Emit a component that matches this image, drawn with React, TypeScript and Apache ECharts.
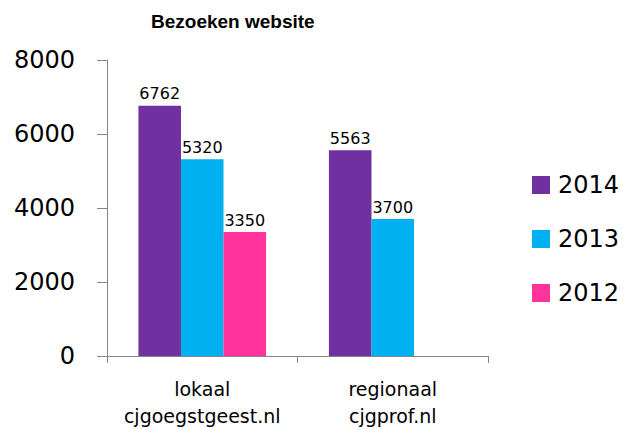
import React, { useEffect, useRef } from "react";
import * as echarts from "echarts";

const categories = ["lokaal\ncjgoegstgeest.nl", "regionaal\ncjgprof.nl"];
const seriesNames = ["2014", "2013", "2012"];
const values2014 = [6762, 5563];
const values2013 = [5320, 3700];
const values2012: (number | null)[] = [3350, null];
const colors = ["#7030A0", "#00B0F0", "#FF3399"];
const yTicks = { min: 0, max: 8000, interval: 2000 };

const FONT = "DejaVu Sans";

export default function App() {
  const ref = useRef<HTMLDivElement>(null);
  useEffect(() => {
    if (!ref.current) return;
    const chart = echarts.init(ref.current, undefined, { renderer: "svg" });
    const data = [values2014, values2013, values2012];
    chart.setOption({
      animation: false,
      backgroundColor: "#ffffff",
      title: {
        text: "Bezoeken website",
        left: 151,
        top: 12,
        padding: 0,
        textStyle: { fontFamily: "Liberation Sans", fontSize: 19, fontWeight: "bold", color: "#000" },
      },
      legend: {
        orient: "vertical",
        left: 532,
        top: 173,
        padding: 0,
        itemWidth: 18,
        itemHeight: 18,
        itemGap: 30,
        icon: "rect",
        textStyle: { fontFamily: FONT, fontSize: 24, color: "#000", padding: [0, 0, 0, 3] },
        data: seriesNames,
      },
      grid: { left: 107, right: 137, top: 60, bottom: 73, containLabel: false },
      xAxis: {
        type: "category",
        data: categories,
        axisLine: { show: true, lineStyle: { color: "#868686", width: 1 } },
        axisTick: { show: true, length: 7, lineStyle: { color: "#868686" } },
        axisLabel: {
          fontFamily: FONT,
          fontSize: 19,
          color: "#000",
          lineHeight: 27,
          margin: 19,
          interval: 0,
        },
      },
      yAxis: {
        type: "value",
        min: yTicks.min,
        max: yTicks.max,
        interval: yTicks.interval,
        splitLine: { show: false },
        axisLine: { show: true, lineStyle: { color: "#868686", width: 1 } },
        axisTick: { show: true, length: 10, lineStyle: { color: "#868686" } },
        axisLabel: {
          fontFamily: FONT,
          fontSize: 24,
          color: "#000",
          margin: 32,
          formatter: (v: number) => String(v),
        },
      },
      series: seriesNames.map((name, i) => ({
        name,
        type: "bar",
        data: data[i],
        barGap: "0%",
        barCategoryGap: "33%",
        itemStyle: { color: colors[i] },
        label: {
          show: true,
          position: "top",
          distance: 4,
          fontFamily: FONT,
          fontSize: 16,
          color: "#000",
        },
      })),
    });
    return () => chart.dispose();
  }, []);
  return (
    <div
      ref={ref}
      style={{ position: "fixed", left: 0, top: 0, width: 625, height: 429 }}
    />
  );
}
